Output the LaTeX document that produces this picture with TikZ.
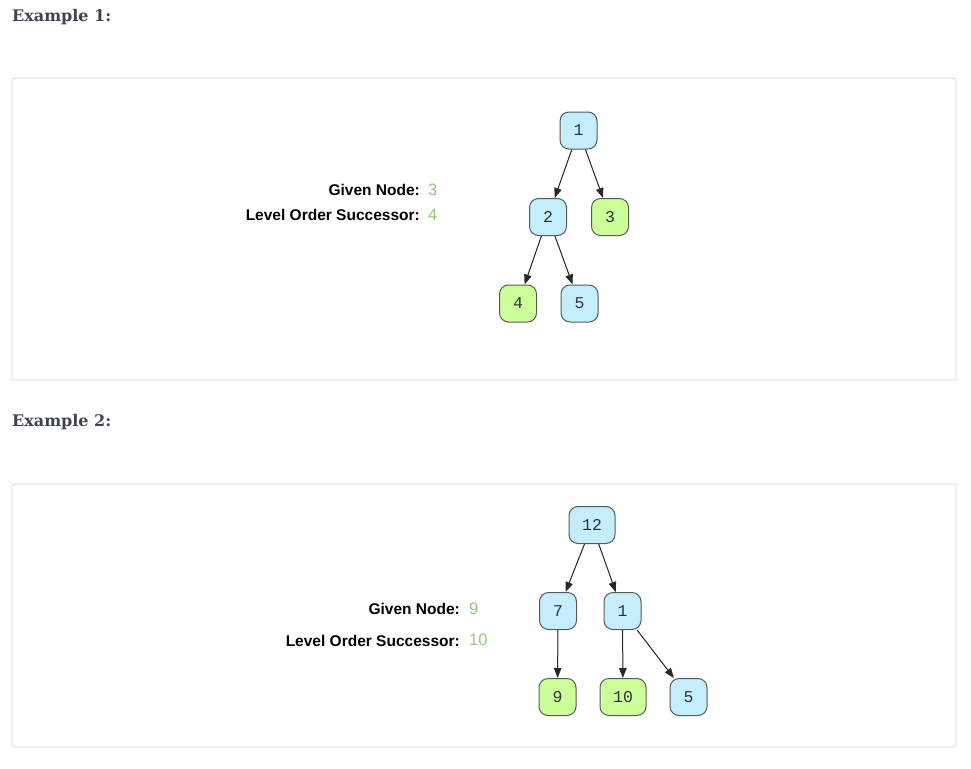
\documentclass[tikz,border=0pt]{standalone}
\usepackage{fontspec}
\setmainfont{DejaVu Serif}
\newfontfamily\labelfont{Liberation Sans}
\newfontfamily\keyfont{Liberation Mono}
\usetikzlibrary{arrows.meta}
\definecolor{headgray}{RGB}{61,68,80}
\definecolor{panelgray}{RGB}{212,212,212}
\definecolor{treeblue}{RGB}{196,238,252}
\definecolor{treegreen}{RGB}{204,255,153}
\definecolor{valgreen}{RGB}{150,196,130}
\definecolor{edgegray}{RGB}{40,40,40}

\begin{document}
\begin{tikzpicture}[x=1pt,y=-1pt,
   panel/.style={draw=panelgray,line width=0.8pt,rounded corners=3pt},
   head/.style={inner sep=0pt,anchor=base west,text=headgray,font=\fontsize{16}{18}\selectfont\bfseries},
   info/.style={inner sep=0pt,anchor=base east,font=\labelfont\fontsize{15.5}{17}\selectfont\bfseries},
   val/.style={inner sep=0pt,anchor=base west,text=valgreen,font=\labelfont\fontsize{16.5}{17}\selectfont},
   tnode/.style={draw=gray!70!black,line width=1pt,rounded corners=9pt,minimum width=37pt,minimum height=37pt,
     inner sep=0pt,text=black!80,font=\keyfont\fontsize{16.5}{16}\selectfont},
   blue/.style={tnode,fill=treeblue},
   green/.style={tnode,fill=treegreen},
   edge/.style={-{Triangle[length=10pt,width=7.5pt]},draw=edgegray,fill=edgegray,line width=1pt}]
   \useasboundingbox (0,0) rectangle (971,768);
   % example 1
   \node[head] (h1) at (12,22) {Example 1:};
   \draw[panel] (12,78) rectangle (956,380);
   \node[info] (g1) at (420,195) {Given Node:};
   \node[val] (v1) at (428,195) {3};
   \node[info] (s1) at (420,220) {Level Order Successor:};
   \node[val] (w1) at (428,220) {4};
   \node[blue] (a1) at (578.5,130.5) {1};
   \node[blue] (a2) at (548,217) {2};
   \node[green] (a3) at (610,217) {3};
   \node[green] (a4) at (518,303.5) {4};
   \node[blue] (a5) at (579.5,303.5) {5};
   \draw[edge] (a1) -- (a2);
   \draw[edge] (a1) -- (a3);
   \draw[edge] (a2) -- (a4);
   \draw[edge] (a2) -- (a5);
   % example 2
   \node[head] (h2) at (12,426) {Example 2:};
   \draw[panel] (12,484) rectangle (956,747);
   \node[info] (g2) at (460,614) {Given Node:};
   \node[val] (v2) at (469,614) {9};
   \node[info] (s2) at (460,646) {Level Order Successor:};
   \node[val] (w2) at (469,645) {10};
   \node[blue,minimum width=46pt] (b1) at (592,525) {12};
   \node[blue] (b2) at (558,611) {7};
   \node[blue] (b3) at (622.5,611) {1};
   \node[green] (b4) at (557.5,697) {9};
   \node[green,minimum width=46pt] (b5) at (623,697) {10};
   \node[blue] (b6) at (688.5,697) {5};
   \draw[edge] (b1) -- (b2);
   \draw[edge] (b1) -- (b3);
   \draw[edge] (b2) -- (b4);
   \draw[edge] (b3) -- (b5);
   \draw[edge] (b3) -- (b6);
\end{tikzpicture}
\end{document}
